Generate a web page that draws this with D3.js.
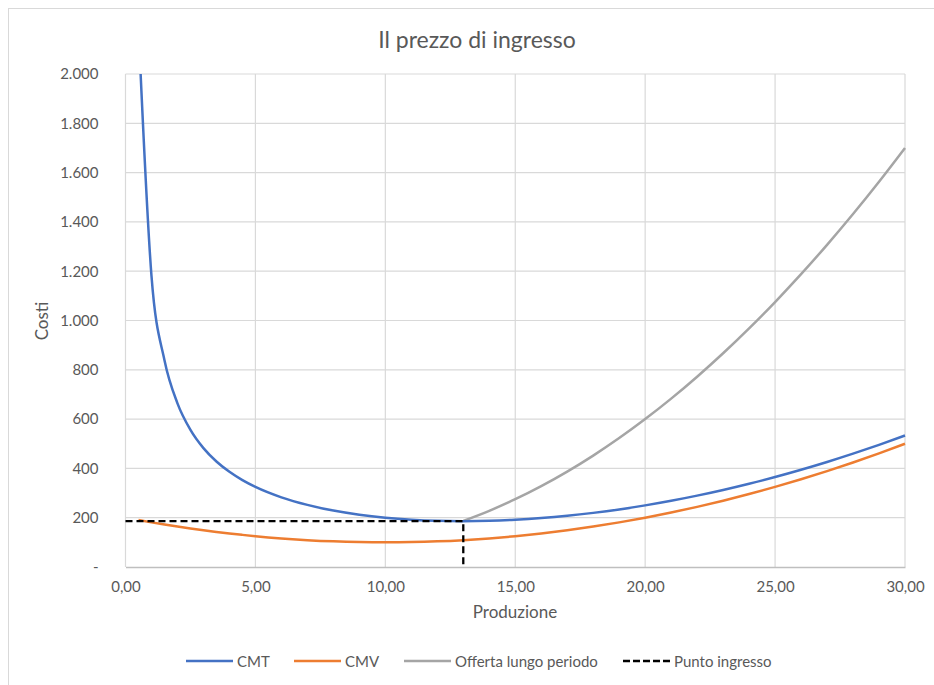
<!DOCTYPE html>
<html>
<head>
<meta charset="utf-8">
<script src="https://cdn.jsdelivr.net/npm/d3@7"></script>
<style>
  body { margin: 0; background: #fff; }
  text { font-family: Lato, "Open Sans", sans-serif; fill: #595959; }
</style>
</head>
<body>
<svg id="chart" width="934" height="685"></svg>
<script>
// ---- Data ----
const qCost = [0.5, 1, 1.5, 2, 2.5, 3, 3.5, 4, 4.5, 5, 6, 7, 8, 9, 10, 11, 12, 13, 14, 15,
               16, 17, 18, 19, 20, 21, 22, 23, 24, 25, 26, 27, 28, 29, 30];
const cmt = [2190.3, 1181, 838.9, 664, 556.3, 482.3, 428.0, 386, 352.5, 325, 282.7, 251.9, 229,
             212.1, 200, 191.9, 187.3, 185.9, 187.4, 191.7, 198.5, 207.8, 219.6, 233.6, 250,
             268.6, 289.5, 312.5, 337.7, 365, 394.5, 426.0, 459.7, 495.5, 533.3];
const cmv = [190.3, 181, 172.3, 164, 156.3, 149, 142.3, 136, 130.3, 125, 116, 109, 104, 101, 100,
             101, 104, 109, 116, 125, 136, 149, 164, 181, 200, 221, 244, 269, 296, 325, 356,
             389, 424, 461, 500];
const qOfferta = [13, 14, 15, 16, 17, 18, 19, 20, 21, 22, 23, 24, 25, 26, 27, 28, 29, 30];
const offerta = [187, 228, 275, 328, 387, 452, 523, 600, 683, 772, 867, 968, 1075, 1188, 1307,
                 1432, 1563, 1700];
const puntoX = [0, 13, 13];
const puntoY = [186, 186, 0];
const xTicks = [0, 5, 10, 15, 20, 25, 30];
const yTicks = [0, 200, 400, 600, 800, 1000, 1200, 1400, 1600, 1800, 2000];
const seriesNames = ["CMT", "CMV", "Offerta lungo periodo", "Punto ingresso"];
const seriesColors = ["#4472C4", "#ED7D31", "#A5A5A5", "#000000"];

// ---- Layout ----
const svg = d3.select("#chart");
const L = 125.5, R = 905, T = 74, B = 567;
const FONT = "Lato, 'Open Sans', sans-serif";

svg.append("rect").attr("x", 8.5).attr("y", 8.5).attr("width", 940).attr("height", 700)
  .attr("fill", "#fff").attr("stroke", "#d9d9d9").attr("stroke-width", 1);

const x = d3.scaleLinear().domain([0, 30]).range([L, R]);
const y = d3.scaleLinear().domain([0, 2000]).range([B, T]);

// gridlines
svg.append("g").selectAll("line").data(yTicks.filter(d => d > 0)).join("line")
  .attr("x1", L).attr("x2", R).attr("y1", d => y(d)).attr("y2", d => y(d))
  .attr("stroke", "#d9d9d9").attr("stroke-width", 1.2);
svg.append("g").selectAll("line").data(xTicks).join("line")
  .attr("x1", d => x(d)).attr("x2", d => x(d)).attr("y1", T).attr("y2", B)
  .attr("stroke", "#d9d9d9").attr("stroke-width", 1.2);

// axes
const fmtX = d => d3.format(".2f")(d).replace(".", ",");
const fmtY = d => d === 0 ? "-" : d3.format(",")(d).replace(/,/g, ".");

const xAxis = svg.append("g").attr("transform", `translate(0,${B})`)
  .call(d3.axisBottom(x).tickValues(xTicks).tickFormat(fmtX).tickSize(0).tickPadding(14));
xAxis.select(".domain").attr("stroke", "#bfbfbf").attr("stroke-width", 1.3);
xAxis.selectAll("text").attr("font-size", 15).attr("fill", "#595959").style("font-family", FONT);

const yAxis = svg.append("g").attr("transform", `translate(${L},0)`)
  .call(d3.axisLeft(y).tickValues(yTicks).tickFormat(fmtY).tickSize(0).tickPadding(27));
yAxis.select(".domain").remove();
yAxis.selectAll("text").attr("font-size", 15).attr("fill", "#595959").style("font-family", FONT);

// clip
svg.append("clipPath").attr("id", "plotclip").append("rect")
  .attr("x", L - 2).attr("y", T).attr("width", R - L + 4).attr("height", B - T + 2);

const line = d3.line().x(d => x(d[0])).y(d => y(d[1])).curve(d3.curveMonotoneX);
const lineLin = d3.line().x(d => x(d[0])).y(d => y(d[1]));
const plot = svg.append("g").attr("clip-path", "url(#plotclip)");

const zip = (a, b) => a.map((v, i) => [v, b[i]]);

plot.append("path").datum(zip(qOfferta, offerta)).attr("d", line)
  .attr("fill", "none").attr("stroke", seriesColors[2]).attr("stroke-width", 2.5);
plot.append("path").datum(zip(qCost, cmv)).attr("d", line)
  .attr("fill", "none").attr("stroke", seriesColors[1]).attr("stroke-width", 2.5);
plot.append("path").datum(zip(qCost, cmt)).attr("d", line)
  .attr("fill", "none").attr("stroke", seriesColors[0]).attr("stroke-width", 2.5);
plot.append("path").datum(zip(puntoX, puntoY)).attr("d", lineLin)
  .attr("fill", "none").attr("stroke", seriesColors[3]).attr("stroke-width", 2.3)
  .attr("stroke-dasharray", "7,4");

// titles
svg.append("text").attr("x", 477).attr("y", 48).attr("text-anchor", "middle")
  .attr("font-size", 23).text("Il prezzo di ingresso");
svg.append("text").attr("x", 515).attr("y", 618).attr("text-anchor", "middle")
  .attr("font-size", 17).text("Produzione");
svg.append("text").attr("transform", "translate(48,321) rotate(-90)").attr("text-anchor", "middle")
  .attr("font-size", 17).text("Costi");

// legend
const legendX = [186, 294, 404, 623];
const lg = svg.append("g");
seriesNames.forEach((name, i) => {
  lg.append("line").attr("x1", legendX[i]).attr("x2", legendX[i] + 47)
    .attr("y1", 661).attr("y2", 661)
    .attr("stroke", seriesColors[i]).attr("stroke-width", 2.5)
    .attr("stroke-dasharray", i === 3 ? "7,3" : null);
  lg.append("text").attr("x", legendX[i] + 51).attr("y", 667)
    .attr("font-size", 15).text(name);
});
</script>
</body>
</html>
